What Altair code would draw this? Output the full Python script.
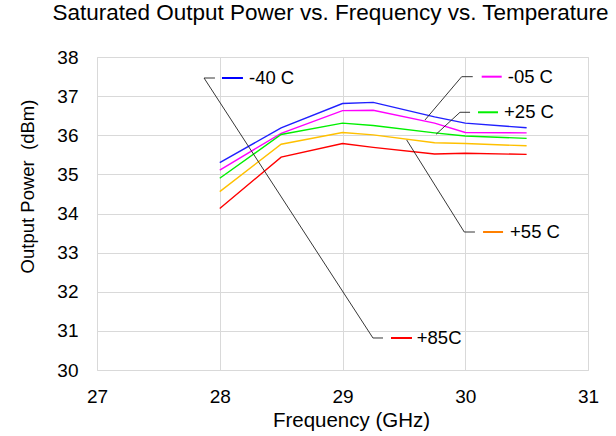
import altair as alt
import pandas as pd

# ---- data ----
freq = [28.0, 28.5, 29.0, 29.25, 29.75, 30.0, 30.5]
series_names = ["-40 C", "-05 C", "+25 C", "+55 C", "+85C"]
p_m40 = [35.30, 36.19, 36.81, 36.84, 36.47, 36.31, 36.19]
p_m05 = [35.11, 36.05, 36.63, 36.64, 36.31, 36.07, 36.06]
p_p25 = [34.90, 36.02, 36.31, 36.25, 36.06, 35.98, 35.92]
p_p55 = [34.56, 35.77, 36.07, 36.01, 35.81, 35.79, 35.73]
p_p85 = [34.13, 35.44, 35.79, 35.69, 35.52, 35.54, 35.51]
line_colors = ["#2020ff", "#ff00ff", "#00f000", "#ffc000", "#ff0000"]
key_colors = ["#0000ff", "#ff00ff", "#00f000", "#ff8000", "#ff0000"]

x_ticks = [27, 28, 29, 30, 31]
y_ticks = [30, 31, 32, 33, 34, 35, 36, 37, 38]

# annotation (data-label) anchors, in data coordinates
lab_y = [37.463, 37.497, 36.587, 33.527, 30.818]
lab_text_x = [28.238, 30.346, 30.316, 30.365, 29.605]
key_x1 = [28.018, 30.134, 30.104, 30.145, 29.395]
key_x2 = [28.189, 30.297, 30.267, 30.308, 29.566]
# leader polylines: (id, x, y)
leader_id = ["a", "a", "a", "a", "b", "b", "b", "c", "c", "c", "d", "d", "d"]
leader_x = [27.961, 27.872, 29.248, 29.330,
            30.061, 29.971, 29.672,
            30.039, 29.957, 29.762,
            29.523, 29.992, 30.079]
leader_yv = [37.463, 37.463, 30.818, 30.818,
             37.497, 37.497, 36.390,
             36.587, 36.587, 36.024,
             35.879, 33.527, 33.527]

FONT = "Liberation Sans"

rows = []
for name, vals in zip(series_names, [p_m40, p_m05, p_p25, p_p55, p_p85]):
    for f, v in zip(freq, vals):
        rows.append({"series": name, "freq": f, "power": v})
df = pd.DataFrame(rows)

ldf = pd.DataFrame({"series": series_names, "ty": lab_y, "tx": lab_text_x,
                    "kx1": key_x1, "kx2": key_x2})
lead = pd.DataFrame({"id": leader_id, "x": leader_x, "y": leader_yv,
                     "o": list(range(len(leader_id)))})

xscale = alt.Scale(domain=[27, 31], nice=False, zero=False)
yscale = alt.Scale(domain=[30, 38], nice=False, zero=False)

xaxis = alt.Axis(values=x_ticks, title="Frequency (GHz)", grid=True, gridColor="#d9d9d9",
                 ticks=False, domain=False, labelFontSize=19, labelFont=FONT,
                 labelColor="black", labelPadding=17, labelFlush=False, labelOverlap=False,
                 titleFont=FONT, titleFontSize=20.5, titleFontWeight="normal",
                 titleColor="black", titleX=254, titleY=56, titleBaseline="alphabetic",
                 titleAlign="center", format="d")
yaxis = alt.Axis(values=y_ticks, title="Output Power\u00a0 (dBm)", grid=True,
                 gridColor="#d9d9d9", ticks=False, domain=False, labelFontSize=19,
                 labelFont=FONT, labelColor="black", labelPadding=19, labelFlush=False,
                 labelOverlap=False,
                 titleFont=FONT, titleFontSize=18.5, titleFontWeight="normal",
                 titleColor="black", titleAngle=270, titleX=-64, titleY=129,
                 titleBaseline="alphabetic", titleAlign="center", format="d")

lines = alt.Chart(df).mark_line(strokeWidth=1.4).encode(
    x=alt.X("freq:Q", scale=xscale, axis=xaxis),
    y=alt.Y("power:Q", scale=yscale, axis=yaxis),
    color=alt.Color("series:N", scale=alt.Scale(domain=series_names, range=line_colors),
                    legend=None),
    detail="series:N",
)

leaders = alt.Chart(lead).mark_line(strokeWidth=0.9, color="#202020").encode(
    x=alt.X("x:Q", scale=xscale, axis=xaxis),
    y=alt.Y("y:Q", scale=yscale, axis=yaxis),
    detail="id:N",
    order="o:Q",
)

keys = alt.Chart(ldf).mark_rule(strokeWidth=2).encode(
    x=alt.X("kx1:Q", scale=xscale, axis=xaxis),
    x2="kx2:Q",
    y=alt.Y("ty:Q", scale=yscale, axis=yaxis),
    color=alt.Color("series:N", scale=alt.Scale(domain=series_names, range=key_colors),
                    legend=None),
)

texts = alt.Chart(ldf).mark_text(align="left", baseline="middle", fontSize=18.5,
                                 font=FONT, color="black").encode(
    x=alt.X("tx:Q", scale=xscale, axis=xaxis),
    y=alt.Y("ty:Q", scale=yscale, axis=yaxis),
    text="series:N",
)

chart = alt.layer(lines, leaders, keys, texts).resolve_scale(color="independent").properties(
    width=491, height=313,
    autosize="none",
    padding={"left": 97, "top": 57, "right": 28, "bottom": 66},
    title=alt.TitleParams("Saturated Output Power vs. Frequency vs. Temperature",
                          font=FONT, fontSize=22.5, fontWeight="normal", color="black",
                          anchor="middle", frame="group", dx=-12, offset=6,
                          baseline="alphabetic"),
).configure_view(stroke="black", strokeWidth=1.5).configure(background="white")

chart.save("out.html", embed_options={"renderer": "svg", "actions": False})
